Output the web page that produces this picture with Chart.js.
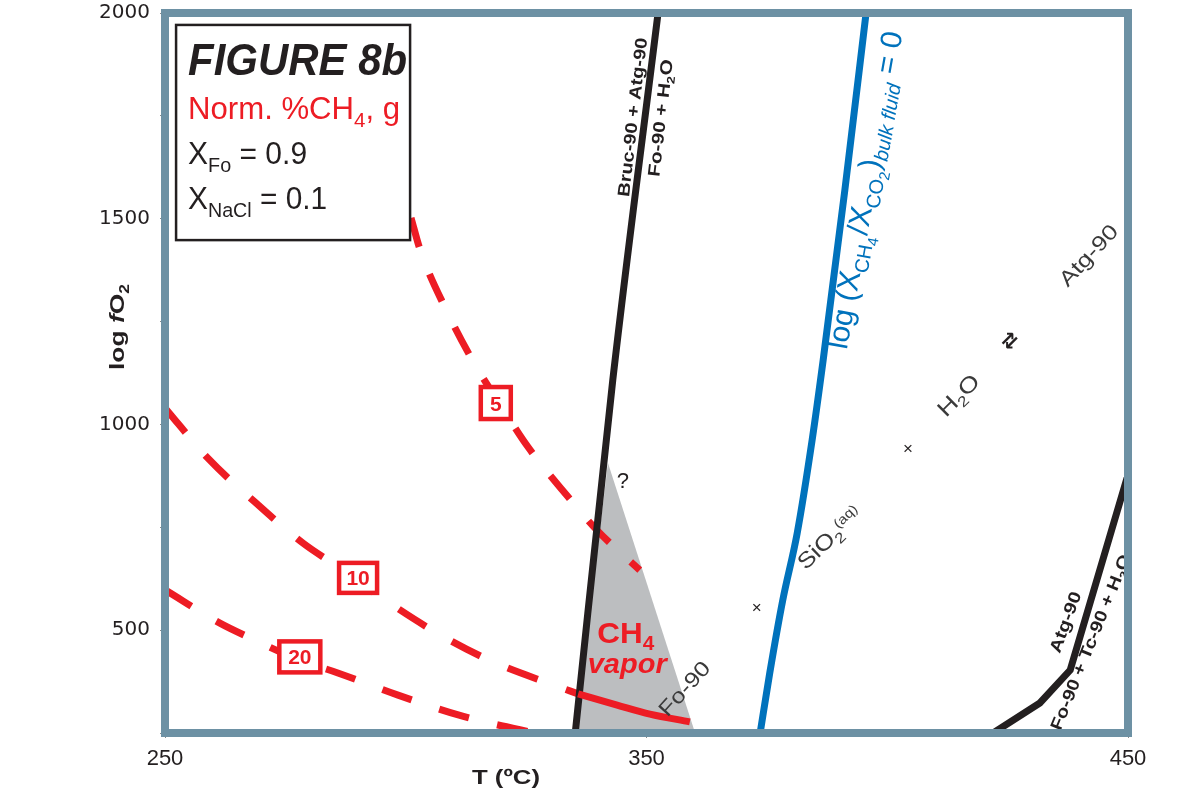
<!DOCTYPE html>
<html lang="en">
<head>
<meta charset="UTF-8">
<title>Figure 8b</title>
<script src="https://cdn.jsdelivr.net/npm/chart.js"></script>
<style>
  body { margin: 0; background: #fff; }
  #chart { display: block; }
</style>
</head>
<body>
<canvas id="chart" width="1201" height="798"></canvas>
<script>
// values (T in °C, vertical axis as labelled)
const tTicks = [250, 350, 450];
const pTicks = [500, 1000, 1500, 2000];

const brucT = [335.2, 343.0, 352.4];
const brucP = [250, 1108, 2000];

const co2T = [373.6, 375.6, 378.3, 381.3, 384.4, 386.7, 391.2, 395.6];
const co2P = [250, 396, 573, 736, 962, 1157, 1570, 2000];

const atgT = [422.0, 431.7, 438.0, 449.8];
const atgP = [250, 323, 403, 870];

const vaporT = [335.2, 342.0, 360.1];
const vaporP = [250, 906, 250];

const pct5T = [301.1, 303.0, 308.2, 314.4, 319.8, 325.4, 333.7, 339.7, 348.6];
const pct5P = [1502, 1424, 1283, 1145, 1045, 945, 824, 743, 646];

const pct10T = [250, 258.9, 268.7, 278.7, 286.3, 295.1, 306.5, 318.1, 330.6, 335.8];
const pct10P = [1040, 918, 811, 711, 651, 578, 493, 423, 367, 345];

const pct20T = [250, 261.4, 267.7, 278.0, 285.9, 298.4, 310.9, 317.5, 326.8];
const pct20P = [598, 517, 481, 427, 396, 342, 294, 274, 250];

const vaporEdgeT = [335.8, 343.9, 350.7, 359.0];
const vaporEdgeP = [345, 318, 296, 277];

const ink = '#231f20';
const red = '#ed1c24';
const blue = '#0072bc';
const frameColor = '#6d91a4';
const FAM = '"Liberation Sans", Arial, sans-serif';

const pts = (xs, ys) => xs.map((x, i) => ({ x: x, y: ys[i] }));

function setFont(ctx, size, weight, italic, fam) {
  ctx.font = (italic ? 'italic ' : '') + (weight || 'normal') + ' ' + size + 'px ' + (fam || FAM);
}

// size factor, vertical shift (fraction of base size)
const LV = { 0: [1, 0], 1: [0.66, 0.24], 2: [0.5, 0.4], sup: [0.6, -0.32] };

// draws runs of text centred (or left aligned) at x,y, optional rotation and fitted width
function richText(ctx, runs, x, y, o) {
  const size = o.size;
  ctx.save();
  ctx.translate(x, y);
  if (o.angle) ctx.rotate(o.angle * Math.PI / 180);
  let total = 0;
  const parts = runs.map(r => {
    const lv = LV[r[1] || 0];
    const s = size * lv[0];
    const it = r[2] !== undefined ? r[2] : o.italic;
    setFont(ctx, s, o.weight, it, o.family);
    const w = ctx.measureText(r[0]).width;
    total += w;
    return { t: r[0], s: s, dy: lv[1] * size, w: w, it: it };
  });
  if (o.width) ctx.scale(o.width / total, 1);
  let cx = o.align === 'left' ? 0 : -total / 2;
  ctx.fillStyle = o.color || ink;
  ctx.textBaseline = 'alphabetic';
  ctx.textAlign = 'left';
  const base = size * 0.36;
  parts.forEach(p => {
    setFont(ctx, p.s, o.weight, p.it, o.family);
    ctx.fillText(p.t, cx, base + p.dy);
    cx += p.w;
  });
  ctx.restore();
}

const notes = [
  { at: [347.0, 1747], runs: [['Bruc-90 + Atg-90']], size: 17, weight: 'bold', angle: -83.4, width: 160 },
  { at: [352.8, 1745], runs: [['Fo-90 + H'], ['2', 1], ['O']], size: 17, weight: 'bold', angle: -83.4, width: 118 },
  { at: [395.2, 1570], runs: [['log (X'], ['CH', 1], ['4', 2], ['/X'], ['CO', 1], ['2', 2], [')'], ['bulk fluid', 1, true], [' = 0']], size: 30, color: blue, angle: -80, width: 322 },
  { at: [441.7, 1412], runs: [['Atg-90']], size: 21, color: '#3a3a3a', angle: -47, width: 76 },
  { at: [425.3, 1205], runs: [['\u21C4']], size: 20, weight: 'bold', angle: -45, family: '"DejaVu Sans", sans-serif' },
  { at: [414.7, 1072], runs: [['H'], ['2', 1], ['O']], size: 22, color: '#3a3a3a', angle: -45, width: 50 },
  { at: [404.3, 943], runs: [['\u00D7']], size: 17 },
  { at: [372.9, 556], runs: [['\u00D7']], size: 17 },
  { at: [387.9, 726], runs: [['SiO'], ['2', 1], ['(aq)', 'sup']], size: 22, color: '#3a3a3a', angle: -44, width: 80 },
  { at: [357.8, 359], runs: [['Fo-90']], size: 21, color: '#3a3a3a', angle: -48, width: 66 },
  { at: [345.1, 865], runs: [['?']], size: 22 },
  { at: [345.7, 495.5], runs: [['CH'], ['4', 1]], size: 30, weight: 'bold', color: red, width: 57 },
  { at: [346.0, 420], runs: [['vapor']], size: 28, weight: 'bold', italic: true, color: red, width: 79 },
  { at: [436.9, 520], runs: [['Atg-90']], size: 17, weight: 'bold', angle: -70, width: 64 },
  { at: [442.1, 471], runs: [['Fo-90 + Tc-90 + H'], ['2', 1], ['O']], size: 17, weight: 'bold', angle: -68, width: 188 }
];

const tags = [
  { at: [318.7, 1052], t: '5', w: 30, h: 32 },
  { at: [290.1, 627], t: '10', w: 38, h: 30 },
  { at: [278.0, 435], t: '20', w: 41, h: 31 }
];

const overlay = {
  id: 'overlay',
  afterDatasetsDraw(chart) {
    const ctx = chart.ctx;
    const xs = chart.scales.x, ys = chart.scales.y;
    const a = chart.chartArea;
    const px = v => xs.getPixelForValue(v);
    const py = v => ys.getPixelForValue(v);

    notes.forEach(n => richText(ctx, n.runs, px(n.at[0]), py(n.at[1]), n));

    tags.forEach(g => {
      const x = px(g.at[0]), y = py(g.at[1]);
      ctx.save();
      ctx.fillStyle = '#fff';
      ctx.strokeStyle = red;
      ctx.lineWidth = 4.5;
      ctx.fillRect(x - g.w / 2, y - g.h / 2, g.w, g.h);
      ctx.strokeRect(x - g.w / 2, y - g.h / 2, g.w, g.h);
      ctx.restore();
      richText(ctx, [[g.t]], x, y, { size: 21, weight: 'bold', color: red });
    });

    // legend box
    const bx = px(252.3), by = py(1971), bx2 = px(300.9), by2 = py(1448);
    ctx.save();
    ctx.fillStyle = '#fff';
    ctx.fillRect(bx, by, bx2 - bx, by2 - by);
    ctx.strokeStyle = ink;
    ctx.lineWidth = 2.5;
    ctx.strokeRect(bx, by, bx2 - bx, by2 - by);
    ctx.restore();
    const lx = bx + 12;
    richText(ctx, [['FIGURE 8b']], lx, by + 34, { size: 44, weight: 'bold', italic: true, align: 'left', width: 219 });
    richText(ctx, [['Norm. %CH'], ['4', 1], [', g']], lx, by + 83, { size: 31, color: red, align: 'left', width: 212 });
    richText(ctx, [['X'], ['Fo', 1], [' = 0.9']], lx, by + 128, { size: 32, align: 'left', width: 119 });
    richText(ctx, [['X'], ['NaCl', 1], [' = 0.1']], lx, by + 173, { size: 32, align: 'left', width: 139 });

    // frame
    ctx.save();
    ctx.strokeStyle = frameColor;
    ctx.lineWidth = 8;
    ctx.strokeRect(a.left, a.top, a.right - a.left, a.bottom - a.top);
    ctx.restore();

    // axis titles
    richText(ctx, [['log '], ['f', 0, true], ['O'], ['2', 1]], 116, 327, { size: 21, weight: 'bold', angle: -90, width: 86 });
    richText(ctx, [['T (\u00BAC)']], 506, 777, { size: 20, weight: 'bold', width: 68 });
  }
};

const line = (t, p, o) => Object.assign({
  data: pts(t, p),
  borderWidth: 7,
  pointRadius: 0,
  fill: false,
  borderCapStyle: 'butt',
  borderJoinStyle: 'miter'
}, o);

new Chart(document.getElementById('chart'), {
  type: 'line',
  data: {
    datasets: [
      line(vaporT, vaporP, { borderWidth: 0, borderColor: 'rgba(0,0,0,0)', backgroundColor: '#bcbec0', fill: 'start', order: 10 }),
      line(pct5T, pct5P, { borderColor: red, borderDash: [30, 29], cubicInterpolationMode: 'monotone', order: 5 }),
      line(pct10T, pct10P, { borderColor: red, borderDash: [32, 30], cubicInterpolationMode: 'monotone', order: 5 }),
      line(pct20T, pct20P, { borderColor: red, borderDash: [31, 29], cubicInterpolationMode: 'monotone', order: 5 }),
      line(brucT, brucP, { borderColor: ink, cubicInterpolationMode: 'monotone', order: 3 }),
      line(vaporEdgeT, vaporEdgeP, { borderColor: red, cubicInterpolationMode: 'monotone', order: 2 }),
      line(co2T, co2P, { borderColor: blue, cubicInterpolationMode: 'monotone', order: 3 }),
      line(atgT, atgP, { borderColor: ink, tension: 0, order: 3 })
    ]
  },
  options: {
    responsive: false,
    animation: false,
    devicePixelRatio: 1,
    layout: { padding: { top: 13, right: 73, left: 0, bottom: 0 } },
    plugins: { legend: { display: false }, tooltip: { enabled: false } },
    scales: {
      x: {
        type: 'linear',
        min: tTicks[0],
        max: tTicks[tTicks.length - 1],
        afterFit: s => { s.height = 65; s.paddingLeft = 0; s.paddingRight = 0; },
        afterBuildTicks: s => { s.ticks = tTicks.map(v => ({ value: v })); },
        grid: { drawOnChartArea: false, tickLength: 5, color: '#8a8a8a' },
        border: { display: false },
        ticks: { color: ink, padding: 8, font: { family: FAM, size: 22 } }
      },
      y: {
        type: 'linear',
        min: 250,
        max: 2000,
        afterFit: s => { s.width = 165; s.paddingTop = 0; s.paddingBottom = 0; },
        grid: { drawOnChartArea: false, tickLength: 5, color: '#8a8a8a' },
        border: { display: false },
        ticks: {
          stepSize: 250,
          color: ink,
          padding: 10,
          font: { family: '"DejaVu Sans", Verdana, sans-serif', size: 20 },
          callback: v => pTicks.includes(v) ? String(v) : ''
        }
      }
    }
  },
  plugins: [overlay]
});
</script>
</body>
</html>
